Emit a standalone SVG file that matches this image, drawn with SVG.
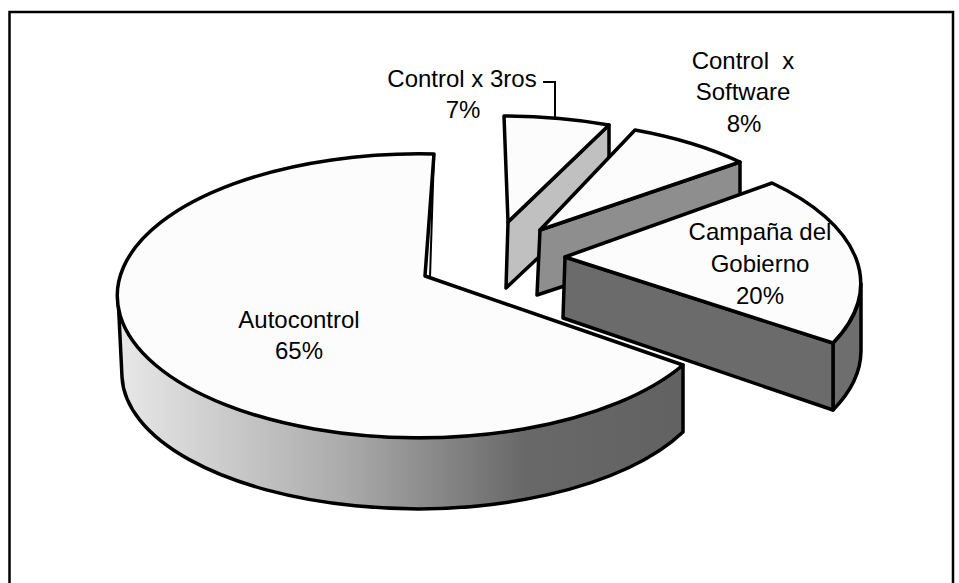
<svg xmlns="http://www.w3.org/2000/svg" width="959" height="583" viewBox="0 0 959 583">
  <style>
    .face { stroke: #000; stroke-width: 3.5; stroke-linejoin: round; }
    .top { fill: #fcfcfc; }
    .lbl { font-family: "Liberation Sans", Arial, sans-serif; font-size: 24px; fill: #000; text-anchor: middle; }
  </style>
  <defs>
    <linearGradient id="wallGrad" gradientUnits="userSpaceOnUse" x1="118" y1="0" x2="683" y2="0">
      <stop offset="0" stop-color="#e8e8e8"/>
      <stop offset="0.4" stop-color="#ababab"/>
      <stop offset="0.72" stop-color="#686868"/>
      <stop offset="1" stop-color="#626262"/>
    </linearGradient>
  </defs>
  <rect x="0" y="0" width="959" height="583" fill="#fff"/>
  <path d="M 9.5,583 V 12 H 953 V 583" fill="none" stroke="#000" stroke-width="2.5"/>

  <g id="slice-control-3ros">
    <path class="face" fill="#c0c0c0" d="M 508,222 L 609,125 L 609,191 L 506,288 Z"/>
    <path class="face top" d="M 508,222 L 504,116 A 302 142 0 0 1 609,125 Z"/>
  </g>

  <g id="slice-control-software">
    <path class="face" fill="#8e8e8e" d="M 540,230 L 740,162 L 740,228 L 537,295 Z"/>
    <path class="face top" d="M 540,230 L 635,130 A 302 142 0 0 1 740,162 Z"/>
  </g>

  <g id="slice-campana">
    <path class="face" fill="#6e6e6e" d="M 833,343 A 302 142 0 0 0 861,284 L 861,351 A 302 142 0 0 1 833,410 Z"/>
    <path class="face" fill="#6b6b6b" d="M 565,257 L 833,343 L 833,410 L 563,318 Z"/>
    <path class="face top" d="M 565,257 L 772,183 A 302 142 0 0 1 833,343 Z"/>
  </g>

  <g id="slice-autocontrol">
    <path class="face" fill="url(#wallGrad)" d="M 118,296 A 302 142 0 0 0 683,365 L 683,432 A 295 135 0 0 1 122,377 Z"/>
    <path class="face top" d="M 425,276 L 434,154 A 302 142 0 1 0 683,365 Z"/>
    <path d="M 434,154 L 430,277" fill="none" stroke="#000" stroke-width="2"/>
  </g>

  <g id="connectors">
    <polyline points="543,82 555,82 555,118" fill="none" stroke="#000" stroke-width="2"/>
  </g>

  <g id="labels">
    <text class="lbl" x="462" y="87">Control x 3ros</text>
    <text class="lbl" x="463" y="118">7%</text>
    <text class="lbl" x="743" y="69" xml:space="preserve">Control  x</text>
    <text class="lbl" x="743" y="100">Software</text>
    <text class="lbl" x="744" y="132">8%</text>
    <text class="lbl" x="760" y="240">Campaña del</text>
    <text class="lbl" x="760" y="272">Gobierno</text>
    <text class="lbl" x="760" y="304">20%</text>
    <text class="lbl" x="299" y="328">Autocontrol</text>
    <text class="lbl" x="299" y="359">65%</text>
  </g>
</svg>
